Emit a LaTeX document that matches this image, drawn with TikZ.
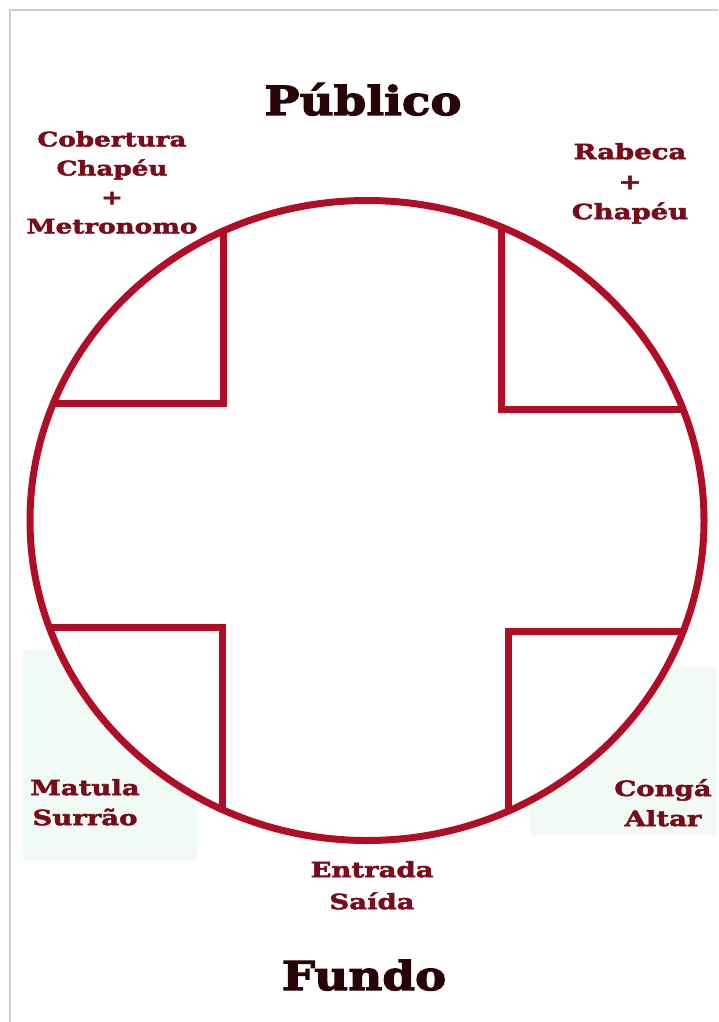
\documentclass[tikz,border=0pt]{standalone}
\usepackage{fontspec}
\setmainfont{DejaVu Serif}
\newfontfamily\heavytitle[FakeStretch=1.17,FakeBold=3]{DejaVu Serif Bold}
\newfontfamily\heavylabel[FakeStretch=1.31,FakeBold=2.5]{DejaVu Serif Bold}
\definecolor{ring}{RGB}{176,14,38}
\definecolor{lbl}{RGB}{120,12,26}
\definecolor{ttl}{RGB}{40,4,6}
\definecolor{mint}{RGB}{242,250,246}
\definecolor{pageline}{RGB}{205,205,205}
\tikzset{
  ringline/.style={draw=ring, line width=7pt, line join=miter},
  label/.style={text=lbl, align=center, inner sep=0pt, anchor=north,
    font=\heavylabel\fontsize{21}{30}\selectfont},
  title/.style={text=ttl, inner sep=0pt, anchor=base,
    font=\heavytitle\fontsize{40}{40}\selectfont},
}
\begin{document}
\begin{tikzpicture}[x=1pt,y=-1pt]
\useasboundingbox (0,0) rectangle (718,1022);
\fill[white] (0,0) rectangle (718,1022);
\draw[pageline, line width=1.5pt] (10,1022) -- (10,10) -- (718,10);
\fill[mint] (23,650) rectangle (197,860);
\fill[mint] (530,667) rectangle (716,835);
\coordinate (c) at (367,520.5);
\fill[white] (c) ellipse [x radius=337pt, y radius=320pt];
\begin{scope}
  \clip (c) ellipse [x radius=337pt, y radius=320pt];
  \draw[ringline] (0,403.5) -- (223,403.5) -- (223,0);
  \draw[ringline] (718,409) -- (501,409) -- (501,0);
  \draw[ringline] (0,627) -- (222,627) -- (222,1022);
  \draw[ringline] (718,631) -- (508,631) -- (508,1022);
\end{scope}
\draw[ringline] (c) ellipse [x radius=337pt, y radius=320pt];
\node[title] (publico) at (363,115) {Público};
\node[title] (fundo) at (364,990) {Fundo};
\node[label, font=\heavylabel\fontsize{20}{29}\selectfont] (cobertura) at (112,131) {Cobertura\\Chapéu\\+\\Metronomo};
\node[label] (rabeca) at (630,143) {Rabeca\\+\\Chapéu};
\node[label] (matula) at (85,779) {Matula\\Surrão};
\node[label] (conga) at (663,779) {Congá\\Altar};
\node[label, font=\heavylabel\fontsize{21}{32}\selectfont] (entrada) at (372,861) {Entrada\\Saída};
\end{tikzpicture}
\end{document}
